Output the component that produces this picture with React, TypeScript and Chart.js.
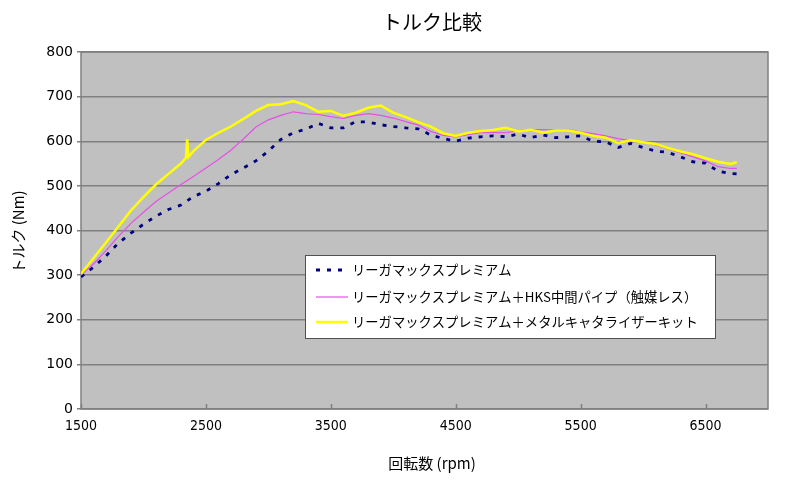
import { useEffect, useRef } from "react"
import { Chart, registerables } from "chart.js"

// Register Chart.js components
Chart.register(...registerables)

// rpm sample points shared by the first two series
const rpm = [
  1500, 1600, 1700, 1800, 1900, 2000, 2100, 2200, 2300, 2400,
  2500, 2600, 2700, 2800, 2900, 3000, 3100, 3200, 3300, 3400,
  3500, 3600, 3700, 3800, 3900, 4000, 4100, 4200, 4300, 4400,
  4500, 4600, 4700, 4800, 4900, 5000, 5100, 5200, 5300, 5400,
  5500, 5600, 5700, 5800, 5900, 6000, 6100, 6200, 6300, 6400,
  6500, 6600, 6700, 6750,
]

const premium = [
  296, 318, 343, 372, 394, 414, 432, 447, 457, 476,
  488, 505, 525, 540, 556, 578, 604, 619, 627, 640,
  630, 630, 644, 643, 637, 633, 630, 628, 614, 606,
  600, 607, 610, 612, 610, 616, 608, 614, 608, 610,
  612, 600, 599, 586, 595, 586, 578, 575, 565, 554,
  551, 533, 528, 527,
]

const premiumHks = [
  300, 325, 355, 387, 416, 441, 465, 484, 503, 521,
  540, 559, 580, 605, 632, 648, 658, 666, 662, 660,
  655, 651, 658, 662, 658, 652, 644, 636, 622, 613,
  610, 615, 619, 620, 619, 624, 626, 626, 625, 626,
  621, 617, 612, 606, 601, 598, 592, 583, 574, 565,
  556, 543, 539, 539,
]

// the metal catalyzer run has a short spike near 2350 rpm
const rpmMetal = [
  1500, 1600, 1700, 1800, 1900, 2000, 2100, 2200, 2300,
  2340, 2350, 2360,
  2400, 2500, 2600, 2700, 2800, 2900, 3000, 3100, 3200, 3300,
  3400, 3500, 3600, 3700, 3800, 3900, 4000, 4100, 4200, 4300,
  4400, 4500, 4600, 4700, 4800, 4900, 5000, 5100, 5200, 5300,
  5400, 5500, 5600, 5700, 5800, 5900, 6000, 6100, 6200, 6300,
  6400, 6500, 6600, 6700, 6750,
]

const premiumMetal = [
  303, 338, 373, 409, 445, 475, 503, 527, 550,
  563, 605, 565,
  578, 603, 619, 633, 650, 668, 681, 683, 690, 681,
  666, 668, 657, 664, 675, 680, 664, 654, 643, 633,
  618, 612, 619, 623, 625, 630, 622, 626, 619, 624,
  624, 619, 612, 608, 596, 602, 598, 594, 585, 577,
  571, 562, 554, 549, 553,
]

const xTickValues = [1500, 2500, 3500, 4500, 5500, 6500]

const seriesNames = [
  "リーガマックスプレミアム",
  "リーガマックスプレミアム＋HKS中間パイプ（触媒レス）",
  "リーガマックスプレミアム＋メタルキャタライザーキット",
]

const seriesColors = ["#000080", "#e650e6", "#ffff00"]

const chartTitle = "トルク比較"
const xTitle = "回転数 (rpm)"
const yTitle = "トルク (Nm)"

const jpFont = "'Noto Sans CJK JP', 'DejaVu Sans', sans-serif"

const toPoints = (xs: number[], ys: number[]) => xs.map((x, i) => ({ x, y: ys[i] }))

// background, border, inner tick marks, titles and the boxed legend
const decorPlugin = {
  id: "decor",
  beforeDraw(chart: Chart) {
    const { ctx, chartArea } = chart
    ctx.save()
    ctx.fillStyle = "#ffffff"
    ctx.fillRect(0, 0, chart.width, chart.height)
    ctx.fillStyle = "#c0c0c0"
    ctx.fillRect(chartArea.left, chartArea.top, chartArea.right - chartArea.left, chartArea.bottom - chartArea.top)
    ctx.restore()
  },
  beforeDatasetsDraw(chart: Chart) {
    const { ctx, chartArea } = chart
    const xScale = chart.scales.x
    ctx.save()
    ctx.strokeStyle = "#808080"
    ctx.lineWidth = 1.5
    ctx.strokeRect(chartArea.left, chartArea.top, chartArea.right - chartArea.left, chartArea.bottom - chartArea.top)
    xTickValues.forEach((v) => {
      const px = Math.round(xScale.getPixelForValue(v)) + 0.5
      ctx.beginPath()
      ctx.moveTo(px, chartArea.bottom)
      ctx.lineTo(px, chartArea.bottom - 5)
      ctx.stroke()
    })
    ctx.restore()
  },
  afterDatasetsDraw(chart: Chart) {
    const { ctx } = chart
    ctx.save()

    // legend box
    ctx.fillStyle = "#ffffff"
    ctx.fillRect(305, 255, 410, 83)
    ctx.strokeStyle = "#505050"
    ctx.lineWidth = 1
    ctx.strokeRect(305.5, 255.5, 410, 83)

    const rows = [270, 297, 322]
    rows.forEach((y, i) => {
      ctx.beginPath()
      ctx.strokeStyle = seriesColors[i]
      if (i === 0) {
        ctx.setLineDash([4, 7])
        ctx.lineWidth = 3
      } else {
        ctx.setLineDash([])
        ctx.lineWidth = i === 2 ? 2.5 : 1.2
      }
      ctx.moveTo(316, y)
      ctx.lineTo(348, y)
      ctx.stroke()
      ctx.setLineDash([])
      ctx.fillStyle = "#000000"
      ctx.font = `13.3px ${jpFont}`
      ctx.textAlign = "left"
      ctx.textBaseline = "middle"
      ctx.fillText(seriesNames[i], 352, y)
    })

    // titles
    ctx.fillStyle = "#000000"
    ctx.textAlign = "center"
    ctx.textBaseline = "middle"
    ctx.font = `20px ${jpFont}`
    ctx.fillText(chartTitle, 432, 22)
    ctx.font = `15px ${jpFont}`
    ctx.fillText(xTitle, 432, 463)
    ctx.translate(18, 232)
    ctx.rotate(-Math.PI / 2)
    ctx.fillText(yTitle, 0, 0)
    ctx.restore()
  },
}

const App = () => {
  const chartRef = useRef<HTMLCanvasElement>(null)
  const chartInstance = useRef<Chart | null>(null)

  useEffect(() => {
    document.body.style.margin = "0"
    if (!chartRef.current) return
    const ctx = chartRef.current.getContext("2d")
    if (!ctx) return

    if (chartInstance.current) {
      chartInstance.current.destroy()
    }

    chartInstance.current = new Chart(ctx, {
      type: "line",
      data: {
        datasets: [
          {
            label: seriesNames[0],
            data: toPoints(rpm, premium),
            borderColor: seriesColors[0],
            borderWidth: 2.8,
            borderDash: [4, 7],
            pointRadius: 0,
            tension: 0,
            order: 3,
          },
          {
            label: seriesNames[1],
            data: toPoints(rpm, premiumHks),
            borderColor: seriesColors[1],
            borderWidth: 1.2,
            pointRadius: 0,
            tension: 0,
            order: 2,
          },
          {
            label: seriesNames[2],
            data: toPoints(rpmMetal, premiumMetal),
            borderColor: seriesColors[2],
            borderWidth: 2.5,
            pointRadius: 0,
            tension: 0,
            order: 1,
          },
        ],
      },
      options: {
        responsive: false,
        animation: false,
        layout: { padding: { left: 0, top: 52, right: 32, bottom: 0 } },
        plugins: {
          legend: { display: false },
          title: { display: false },
          tooltip: { enabled: false },
        },
        scales: {
          x: {
            type: "linear",
            min: 1500,
            max: 7000,
            afterBuildTicks: (scale: any) => {
              scale.ticks = xTickValues.map((value) => ({ value }))
            },
            afterFit: (scale: any) => {
              scale.height = 75
            },
            grid: { display: false, drawTicks: false },
            border: { display: false },
            ticks: {
              autoSkip: false,
              maxRotation: 0,
              padding: 9,
              color: "#000000",
              font: { family: "'DejaVu Sans Condensed', 'DejaVu Sans'", size: 14 },
              callback: (v: any) => String(v),
            },
          },
          y: {
            min: 0,
            max: 800,
            afterFit: (scale: any) => {
              scale.width = 81
            },
            grid: { color: "#808080", lineWidth: 1.5, tickLength: 4 },
            border: { display: false },
            ticks: {
              stepSize: 100,
              padding: 4,
              color: "#000000",
              font: { family: "'DejaVu Sans'", size: 14 },
            },
          },
        },
      },
      plugins: [decorPlugin],
    })

    return () => {
      if (chartInstance.current) {
        chartInstance.current.destroy()
        chartInstance.current = null
      }
    }
  }, [])

  return (
    <div style={{ width: 800, height: 484 }}>
      <canvas ref={chartRef} width={800} height={484} />
    </div>
  )
}

export default App
